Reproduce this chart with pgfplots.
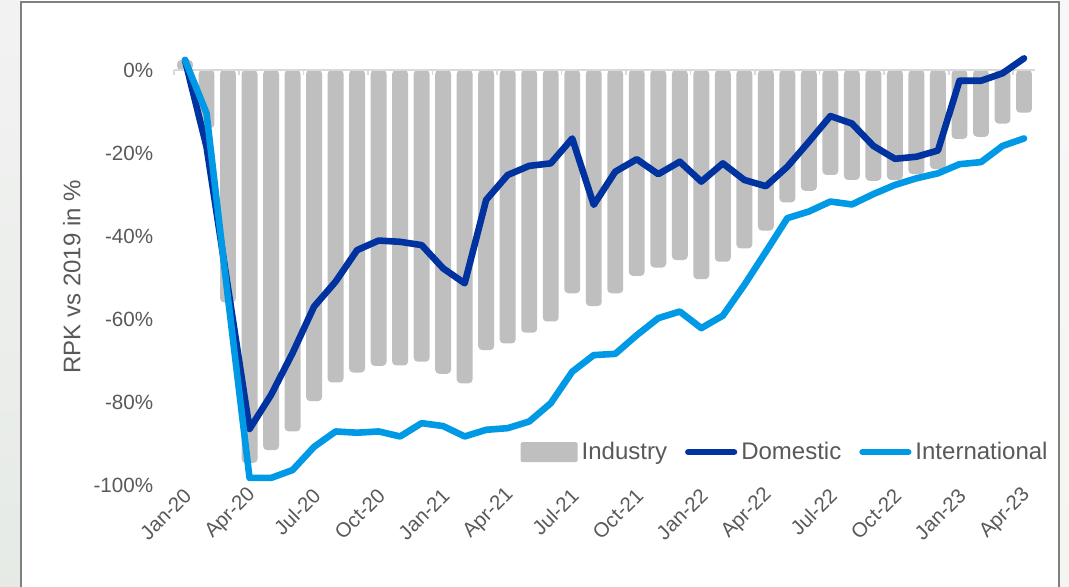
\documentclass[border=0pt]{standalone}
\usepackage{pgfplots}
\usepackage{pgfplotstable}
\pgfplotsset{compat=1.18}
\usepackage{fontspec}
\setmainfont{Liberation Sans}

\definecolor{industry}{HTML}{BFBFBF}
\definecolor{domestic}{HTML}{0033A0}
\definecolor{intl}{HTML}{0099E5}
\definecolor{txt}{HTML}{595959}
\definecolor{zeroline}{HTML}{D9D9D9}

\pgfplotsset{
  lineleg/.style={legend image code/.code={\draw[##1] (1.6pt,0pt) -- (24.4pt,0pt);}},
  barleg/.style={legend image code/.code={\fill[industry, rounded corners=1pt] (0pt,-5pt) rectangle (28.5pt,5pt);}},
}

% RPK vs 2019, monthly Jan-20 .. Apr-23 (idx 0..39)
\pgfplotstableread{
idx industry domestic international
0   2.4   2.4    2.4
1  -14.0 -18.5  -10.4
2  -56.0 -52.5  -55.0
3  -94.7 -86.5  -98.3
4  -91.6 -78.3  -98.3
5  -87.1 -68.2  -96.4
6  -79.8 -57.0  -90.8
7  -75.3 -51.0  -87.1
8  -72.9 -43.4  -87.4
9  -71.3 -41.1  -87.1
10 -71.2 -41.4  -88.3
11 -70.3 -42.2  -85.1
12 -73.2 -47.8  -85.8
13 -75.5 -51.4  -88.3
14 -67.5 -31.3  -86.7
15 -65.9 -25.3  -86.3
16 -63.3 -23.1  -84.7
17 -60.6 -22.5  -80.3
18 -53.8 -16.5  -72.7
19 -56.9 -32.5  -68.7
20 -53.8 -24.5  -68.4
21 -49.6 -21.5  -63.9
22 -47.6 -25.1  -59.8
23 -45.8 -22.1  -58.2
24 -50.4 -26.9  -62.2
25 -46.2 -22.5  -59.2
26 -43.0 -26.5  -51.8
27 -38.7 -28.0  -43.8
28 -31.9 -23.3  -35.7
29 -29.1 -17.3  -34.1
30 -25.3 -11.1  -31.7
31 -26.5 -12.9  -32.4
32 -26.7 -18.3  -29.9
33 -26.5 -21.4  -27.7
34 -25.1 -20.9  -26.1
35 -23.9 -19.4  -24.9
36 -16.6  -2.6  -22.7
37 -16.1  -2.6  -22.2
38 -12.9  -0.8  -18.3
39 -10.3   2.8  -16.5
}\rpk

\begin{document}
\begin{tikzpicture}[x=1pt,y=1pt]
  % page background and white panel
  \shade[top color=white!90!gray, bottom color=green!10!gray!18] (0,0) rectangle (10.5,293.5);
  \shade[top color=white!94!gray, bottom color=yellow!14!gray!10] (529.5,0) rectangle (534.5,293.5);
  \fill[white] (10.5,-1) rectangle (529.5,292.5);
  \draw[line width=1.2pt, color=gray] (10.6,-2) -- (10.6,292.4) -- (529.4,292.4) -- (529.4,-2);

  \begin{axis}[
    at={(87.125pt,51pt)}, anchor=south west,
    scale only axis, width=430.25pt, height=228.25pt,
    xmin=-0.5, xmax=39.5, ymin=-100, ymax=10,
    axis line style={draw=none},
    major tick length=0pt,
    clip=false,
    xtick={0,3,...,39},
    xticklabels={Jan-20,Apr-20,Jul-20,Oct-20,Jan-21,Apr-21,Jul-21,Oct-21,Jan-22,Apr-22,Jul-22,Oct-22,Jan-23,Apr-23},
    xticklabel style={rotate=45, anchor=east, font=\fontsize{10.2}{12}\selectfont, text=txt, xshift=2pt, yshift=-3.5pt},
    ytick={0,-20,-40,-60,-80,-100},
    yticklabels={0\%,-20\%,-40\%,-60\%,-80\%,-100\%},
    yticklabel style={font=\fontsize{10.3}{12}\selectfont, text=txt, xshift=-7pt},
    ylabel={RPK vs 2019 in \%},
    ylabel style={at={(axis description cs:-0.119,0.456)}, anchor=center, font=\fontsize{12}{14}\selectfont, text=txt},
    legend columns=3,
    legend style={at={(axis description cs:1.02,0.04)}, anchor=south east,
      draw=none, fill=none, inner sep=0pt,
      font=\fontsize{12}{14}\selectfont, text=txt,
      /tikz/every even column/.append style={column sep=7pt}},
    legend cell align=left,
    ]
    \addplot[ybar, bar width=0.74, fill=industry, draw=none, rounded corners=2pt, barleg]
      table[x=idx, y=industry] {\rpk};
    \addlegendentry{Industry}

    \draw[zeroline, line width=0.8pt] (axis cs:-0.5,0) -- (axis cs:39.5,0);
    \pgfplotsinvokeforeach{-0.5,2.5,...,38.5}{
      \draw[zeroline, line width=0.8pt] (axis cs:#1,0) -- ++(0pt,-2.5pt);
    }

    \addplot[domestic, line width=3.3pt, line join=round, line cap=round, mark=none, lineleg]
      table[x=idx, y=domestic] {\rpk};
    \addlegendentry{Domestic}
    \addplot[intl, line width=3.3pt, line join=round, line cap=round, mark=none, lineleg]
      table[x=idx, y=international] {\rpk};
    \addlegendentry{International}
  \end{axis}
  \pgfresetboundingbox
  \path[use as bounding box] (0,0) rectangle (534.5,293.5);
\end{tikzpicture}
\end{document}
